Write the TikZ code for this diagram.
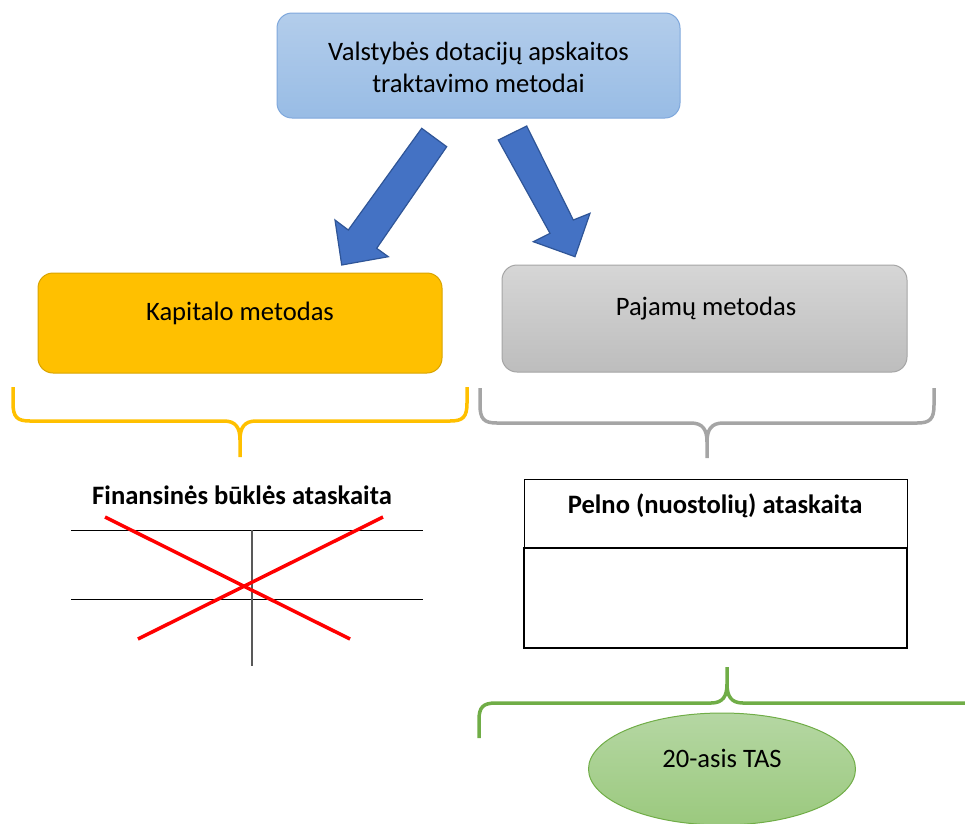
\documentclass[tikz,border=0pt]{standalone}
\usepackage{fontspec}
\setmainfont{Carlito}
\usetikzlibrary{shapes.geometric}
\definecolor{bluetop}{HTML}{B3CDEB}
\definecolor{bluebot}{HTML}{98BCE5}
\definecolor{blueline}{HTML}{7FA8DC}
\definecolor{arrowfill}{HTML}{4472C4}
\definecolor{arrowline}{HTML}{2F5597}
\definecolor{gold}{HTML}{FFC000}
\definecolor{goldline}{HTML}{D9A400}
\definecolor{graytop}{HTML}{D6D6D6}
\definecolor{graybot}{HTML}{BDBDBD}
\definecolor{grayline}{HTML}{A5A5A5}
\definecolor{greentop}{HTML}{B5D7A3}
\definecolor{greenbot}{HTML}{9BC97E}
\definecolor{greenline}{HTML}{70AD47}
\definecolor{crossred}{HTML}{FF0000}
\definecolor{tablegray}{HTML}{595959}
\tikzset{
  txt/.style={font=\fontsize{26.6}{32}\selectfont, align=center, inner sep=0pt},
  btxt/.style={font=\fontsize{26.6}{32}\selectfont\bfseries, align=center, inner sep=0pt},
  roundbox/.style={rounded corners=15pt, line width=1pt},
  blockarrow/.style={fill=arrowfill, draw=arrowline, line width=1.2pt, line join=miter},
  bracegold/.style={draw=gold, line width=3.5pt},
  bracegray/.style={draw=grayline, line width=3.5pt},
  bracegreen/.style={draw=greenline, line width=3.5pt},
  tableline/.style={draw=black, line width=1pt},
  crossline/.style={draw=crossred, line width=3.5pt},
}
\begin{document}
\begin{tikzpicture}[x=1pt,y=-1pt]
\useasboundingbox (0,0) rectangle (965,823);
% top box
\path[roundbox, draw=blueline, top color=bluetop, bottom color=bluebot] (277,13) rectangle (680,118);
\coordinate (topc) at (478.5,65.5);
\node[txt] (title) at (478.5,67.5) {Valstybės dotacijų apskaitos\\traktavimo metodai};
% arrows
\path[blockarrow] (421.7,128.3) -- (446.7,146.7) -- (376.7,248.3) -- (388.3,256.7) -- (341.7,265) -- (335,220) -- (348.3,230) -- cycle;
\path[blockarrow] (526.7,126) -- (573.3,220) -- (590,213.3) -- (575,256.7) -- (533.3,241.7) -- (550,233.3) -- (498.3,140) -- cycle;
% method boxes
\path[roundbox, draw=goldline, fill=gold] (38,273) rectangle (442,373);
\node[txt] (kap) at (240,313.5) {Kapitalo metodas};
\path[roundbox, draw=grayline, top color=graytop, bottom color=graybot] (502,265) rectangle (907,372);
\node[txt] (paj) at (706,308.5) {Pajamų metodas};
% gold brace
\draw[bracegold] (13,387) -- (13,403) .. controls (13,417) and (17,421) .. (30,421) -- (224,421) .. controls (236,421) and (240,428) .. (240,440) -- (240,457);
\draw[bracegold] (240,440) .. controls (240,428) and (244,421) .. (256,421) -- (450,421) .. controls (463,421) and (467,417) .. (467,403) -- (467,387);
% gray brace
\draw[bracegray] (480,388) -- (480,405) .. controls (480,419) and (484,423) .. (497,423) -- (691,423) .. controls (703,423) and (707,430) .. (707,442) -- (707,458);
\draw[bracegray] (707,442) .. controls (707,430) and (711,423) .. (723,423) -- (917,423) .. controls (930,423) and (934,419) .. (934,405) -- (934,388);
% balance sheet
\node[btxt] (fin) at (242,495) {Finansinės būklės ataskaita};
\coordinate (h1l) at (71,530); \coordinate (h1r) at (423,530);
\coordinate (h2l) at (71,599); \coordinate (h2r) at (423,599);
\coordinate (vt) at (252,530); \coordinate (vb) at (252,666);
\draw[tableline] (h1l) -- (h1r);
\draw[tableline] (h2l) -- (h2r);
\draw[draw=tablegray, line width=1.5pt] (vt) -- (vb);
\coordinate (c1a) at (105,517); \coordinate (c1b) at (350,639);
\coordinate (c2a) at (383,517); \coordinate (c2b) at (138,639);
\draw[crossline] (c1a) -- (c1b);
\draw[crossline] (c2a) -- (c2b);
% income statement
\node[draw=black, line width=1pt, minimum width=383pt, minimum height=69pt, inner sep=0pt] (pelnotop) at (715.5,513.5) {};
\node[draw=black, line width=2pt, minimum width=383pt, minimum height=100pt, inner sep=0pt] (pelnobot) at (715.5,598) {};
\node[btxt] (pelno) at (715,506) {Pelno (nuostolių) ataskaita};
% green brace
\draw[bracegreen] (479,738) -- (479,720) .. controls (479,707) and (483,703) .. (496,703) -- (711,703) .. controls (723,703) and (727,696) .. (727,684) -- (727,667);
\draw[bracegreen] (727,684) .. controls (727,696) and (731,703) .. (743,703) -- (975,703);
% ellipse
\node[ellipse, draw=greenline, line width=1pt, top color=greentop, bottom color=greenbot, minimum width=267pt, minimum height=112pt, inner sep=0pt] (tas) at (722,769) {};
\node[txt] (tastxt) at (722,758) {20-asis TAS};
\end{tikzpicture}
\end{document}
